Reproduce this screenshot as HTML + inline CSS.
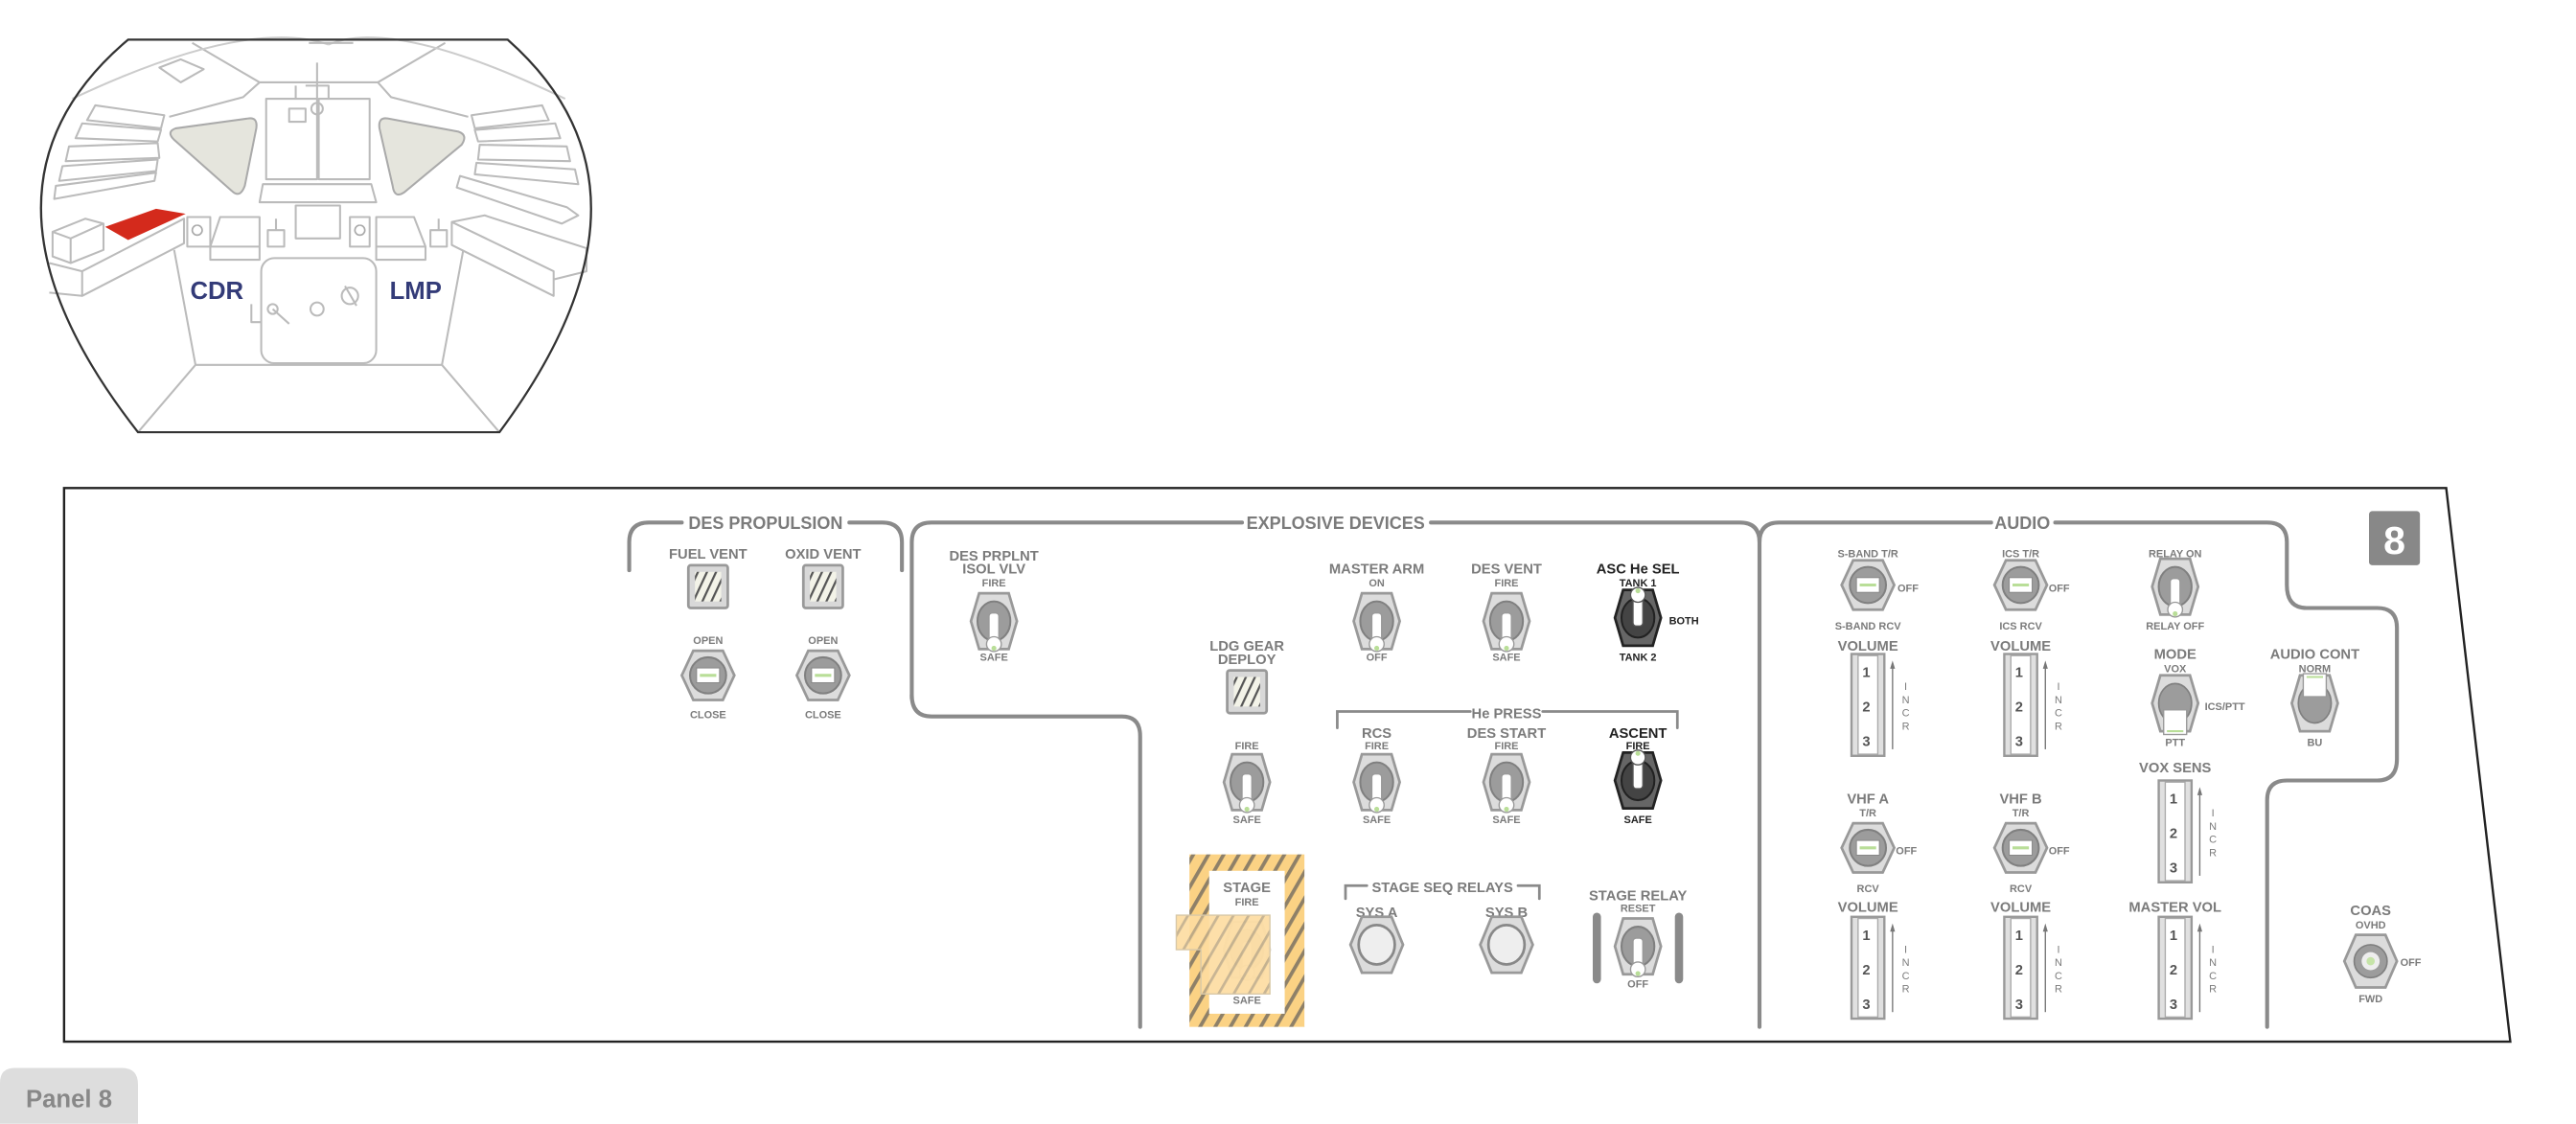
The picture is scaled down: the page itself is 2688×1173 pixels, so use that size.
<!DOCTYPE html>
<html><head><meta charset="utf-8"><style>
html,body{margin:0;padding:0;background:#fff;}
svg{display:block}
text{font-family:"Liberation Sans Narrow","Liberation Sans",sans-serif;font-weight:bold;fill:#7b7b7b;text-anchor:middle}
.t{font-size:8.6px}
.s{font-size:6.4px}
.h{font-size:10.5px}
.k{fill:#222}
.w{fill:#555;font-family:"Liberation Sans",sans-serif}
</style></head><body>
<svg width="2688" height="1173" viewBox="0 0 1568 684" xmlns="http://www.w3.org/2000/svg">
<defs>
<pattern id="hatch" width="8" height="8" patternUnits="userSpaceOnUse" patternTransform="rotate(30)">
<rect width="8" height="8" fill="#fbd284"/><rect width="2.2" height="8" fill="#8e8068"/></pattern>
<pattern id="hatch2" width="8" height="8" patternUnits="userSpaceOnUse" patternTransform="rotate(30)">
<rect width="8" height="8" fill="#fddca0"/><rect width="1.6" height="8" fill="#c2ad88"/></pattern>
<pattern id="sqh" width="5" height="5" patternUnits="userSpaceOnUse" patternTransform="rotate(25)">
<rect width="5" height="5" fill="#f3f3e8"/><rect width="1.3" height="5" fill="#555"/></pattern>
<g id="tg">
<polygon points="-14,0 -9,-17 9,-17 14,0 9,17 -9,17" fill="#dcdcdc" stroke="#999" stroke-width="1.6"/>
<ellipse rx="10" ry="12" fill="#9c9c9c" stroke="#808080" stroke-width="1.2"/>
<rect x="-3" y="-5" width="6" height="17" rx="2" fill="#fff" stroke="#999" stroke-width="0.8"/>
<circle cy="14" r="4.5" fill="#fff" stroke="#999" stroke-width="0.8"/>
<circle cy="16.5" r="1.5" fill="#b9de98"/>
</g>
<g id="tgd">
<polygon points="-14,0 -9,-17 9,-17 14,0 9,17 -9,17" fill="#666" stroke="#222" stroke-width="1.6"/>
<ellipse rx="10" ry="12" fill="#444" stroke="#222" stroke-width="1.2"/>
<rect x="-3" y="-12" width="6" height="17" rx="2" fill="#fff" stroke="#555" stroke-width="0.8"/>
<circle cy="-14" r="4.5" fill="#fff" stroke="#555" stroke-width="0.8"/>
<circle cy="-16.5" r="1.5" fill="#b9de98"/>
</g>
<g id="rot">
<polygon points="-16,0 -9,-15 9,-15 16,0 9,15 -9,15" fill="#dcdcdc" stroke="#999" stroke-width="1.6"/>
<circle r="11" fill="#9c9c9c" stroke="#808080" stroke-width="1.2"/>
<rect x="-7" y="-4.5" width="14" height="9" fill="#fff" stroke="#888" stroke-width="0.6"/>
<line x1="-5" x2="5" y1="0" y2="0" stroke="#b9de98" stroke-width="1.8"/>
</g>
<g id="btn">
<polygon points="-16,0 -9,-17 9,-17 16,0 9,17 -9,17" fill="#dcdcdc" stroke="#999" stroke-width="1.6"/>
<ellipse rx="11" ry="12" fill="#eee" stroke="#888" stroke-width="1.6"/>
</g>
<g id="sq">
<rect x="-12" y="-13" width="24" height="26" rx="1.5" fill="#d8d8d8" stroke="#999" stroke-width="1.6"/>
<rect x="-8" y="-9" width="16" height="18" fill="url(#sqh)"/>
</g>
<g id="wh">
<rect x="-10" y="0" width="20" height="62" fill="#e0e0e0" stroke="#999" stroke-width="1.4"/>
<rect x="-6" y="1" width="12" height="60" fill="#fff" stroke="#aaa" stroke-width="0.8"/>
<text x="-1" y="14" class="t w">1</text><text x="-1" y="35" class="t w">2</text><text x="-1" y="56" class="t w">3</text>
<line x1="15" y1="58" x2="15" y2="7" stroke="#777" stroke-width="0.8"/>
<polygon points="13.5,9 15,4 16.5,9" fill="#777"/>
<text x="23" y="22" class="s" style="font-weight:normal">I</text><text x="23" y="30" class="s" style="font-weight:normal">N</text><text x="23" y="38" class="s" style="font-weight:normal">C</text><text x="23" y="46" class="s" style="font-weight:normal">R</text>
</g>
</defs>

<!-- cockpit -->
<g fill="none" stroke="#bbb" stroke-width="1.2" stroke-linejoin="round">
<path d="M117,26 L158,50 L230,50 L271,26"/>
<path d="M158,50 L148,59 L103,71 M230,50 L238,59 L285,71"/>
<path d="M44,60 Q150,10 200,27 M344,60 Q240,10 200,27" stroke="#ccc"/>
<rect x="162" y="60" width="31" height="49"/><rect x="194" y="60" width="31" height="49"/>
<path d="M193,38 L193,60 M180,52 L180,60 M186,52 L200,52 L200,60 M176,66 L186,66 L186,74 L176,74Z"/>
<circle cx="193" cy="66" r="3.5"/>
<polygon points="160,112 226,112 229,123 158,123"/>
<rect x="180" y="125" width="27" height="20"/>
<rect x="159" y="157" width="70" height="64" rx="8"/>
<circle cx="166" cy="188" r="3"/><line x1="166" y1="188" x2="176" y2="197"/>
<circle cx="193" cy="188" r="4"/>
<circle cx="213" cy="180" r="5"/><line x1="210" y1="174" x2="217" y2="186"/>
<path d="M153,185 L153,196 L159,196"/>
<path d="M106,152 L119,222 L269,222 L282,152 M119,222 L84,263 M269,222 L304,263"/>
<path d="M100,70 L58,64 L53,73 L98,78 Z M98,79 L50,75 L46,84 L96,86 Z M96,87 L42,89 L40,98 L97,96 Z M96,97 L38,101 L36,110 L95,104 Z M95,105 L34,113 L33,121 L94,110 Z"/>
<path d="M287,70 L330,64 L334,73 L289,78 Z M289,79 L338,75 L341,84 L291,86 Z M292,88 L345,89 L347,98 L291,97 Z M290,99 L350,103 L352,112 L289,106 Z M280,107 L345,126 L352,131 L342,136 L278,114 Z"/>
<path d="M32,141 L52,133 L63,136 L63,152 L43,160 L32,156 Z M43,145 L43,160 M32,141 L43,145 L63,136"/>
<path d="M50,165 L112,133 L112,148 L50,180 Z M30,160 L50,165 L50,180 L30,178"/>
<path d="M275,135 L295,131 L357,151 L357,165 L337,170 L337,180 L275,149 Z M275,135 L337,165 L337,170"/>
<rect x="114" y="132" width="14" height="18"/>
<path d="M128,150 L134,132 L158,132 L158,158 L128,158 Z M128,150 L158,150"/>
<path d="M163,150 L163,140 L173,140 L173,150 Z M168,140 L168,133"/>
<rect x="213" y="132" width="12" height="18"/>
<path d="M229,150 L229,132 L252,132 L259,150 L259,158 L229,158 Z M229,150 L259,150"/>
<path d="M262,150 L262,140 L272,140 L272,150 Z M267,140 L267,133"/>
<path d="M97,41 L110,36 L124,42 L110,50 Z"/>
<path d="M188,26 L215,26"/>
</g>
<path d="M120,137 a3,3 0 1 0 0.1,0 M219,137 a3,3 0 1 0 0.1,0" fill="none" stroke="#aaa"/>
<path d="M107,78 L151,72 Q157,71 156,78 L149,113 Q146,121 141,116 L106,85 Q101,80 107,78Z" fill="#e5e5dd" stroke="#aaa" stroke-width="1.2"/>
<path d="M236,72 L279,80 Q285,82 281,88 L246,117 Q240,121 239,113 L231,78 Q230,71 236,72Z" fill="#e5e5dd" stroke="#aaa" stroke-width="1.2"/>
<polygon points="64,138 95,127 113,130 78,146" fill="#d42a1c"/>
<text x="132" y="182" style="font-family:'Liberation Sans',sans-serif;font-size:15px;fill:#333b78;font-weight:bold">CDR</text>
<text x="253" y="182" style="font-family:'Liberation Sans',sans-serif;font-size:15px;fill:#333b78;font-weight:bold">LMP</text>
<path d="M78,24 L309,24 Q413,116 304,263 L84,263 Q-31,116 78,24 Z" fill="none" stroke="#333" stroke-width="1.3"/>

<!-- panel -->
<polygon points="39,297 1489,297 1528,634 39,634" fill="none" stroke="#222" stroke-width="1.4"/>
<path d="M0,684 L0,659 Q0,650 9,650 L74,650 Q84,650 84,660 L84,684 Z" fill="#ddd"/>
<text x="42" y="674" style="font-family:'Liberation Sans',sans-serif;font-size:15px;fill:#888;font-weight:bold">Panel 8</text>
<rect x="1442" y="311" width="31" height="33" rx="2" fill="#888"/>
<text x="1457.5" y="337" style="font-family:'Liberation Sans',sans-serif;font-size:24px;fill:#fff;font-weight:bold">8</text>

<g fill="none" stroke="#8a8a8a" stroke-width="2.4" stroke-linecap="round">
<path d="M383,347 L383,330 Q383,318 395,318 L415,318 M517,318 L537,318 Q549,318 549,330 L549,347"/>
<path d="M555,425 L555,330 Q555,318 567,318 L756,318 M871,318 L1059,318 Q1071,318 1071,330 L1071,625"/>
<path d="M555,423 Q555,436 567,436 L683,436 Q694,436 694,448 L694,625"/>
<path d="M1071,330 Q1071,318 1083,318 L1212,318 M1251,318 L1380,318 Q1392,318 1392,330 L1392,356 Q1392,370 1404,370 L1447,370 Q1459,370 1459,382 L1459,462 Q1459,475 1447,475 L1392,475 Q1380,475 1380,487 L1380,625"/>
<path d="M814,443 L814,433 L895,433 M939,433 L1021,433 L1021,443" stroke-width="1.6"/>
<path d="M819,547 L819,539 L832,539 M924,539 L937,539 L937,547" stroke-width="1.6"/>
</g>
<line x1="972" y1="558" x2="972" y2="596" stroke="#8a8a8a" stroke-width="5" stroke-linecap="round"/>
<line x1="1022" y1="558" x2="1022" y2="596" stroke="#8a8a8a" stroke-width="5" stroke-linecap="round"/>
<text x="466" y="322" class="h">DES PROPULSION</text>
<text x="813" y="322" class="h">EXPLOSIVE DEVICES</text>
<text x="1231" y="322" class="h">AUDIO</text>
<text x="917" y="437" class="t">He PRESS</text>
<text x="878" y="543" class="t">STAGE SEQ RELAYS</text>

<!-- DES PROPULSION -->
<text x="431" y="340" class="t">FUEL VENT</text><text x="501" y="340" class="t">OXID VENT</text>
<use href="#sq" x="431" y="357"/><use href="#sq" x="501" y="357"/>
<text x="431" y="392" class="s">OPEN</text><text x="501" y="392" class="s">OPEN</text>
<use href="#rot" x="431" y="411"/><use href="#rot" x="501" y="411"/>
<text x="431" y="437" class="s">CLOSE</text><text x="501" y="437" class="s">CLOSE</text>

<!-- EXPLOSIVE -->
<text x="605" y="341" class="t">DES PRPLNT</text><text x="605" y="349" class="t">ISOL VLV</text><text x="605" y="357" class="s">FIRE</text>
<use href="#tg" x="605" y="378"/><text x="605" y="402" class="s">SAFE</text>
<text x="838" y="349" class="t">MASTER ARM</text><text x="838" y="357" class="s">ON</text>
<use href="#tg" x="838" y="378"/><text x="838" y="402" class="s">OFF</text>
<text x="917" y="349" class="t">DES VENT</text><text x="917" y="357" class="s">FIRE</text>
<use href="#tg" x="917" y="378"/><text x="917" y="402" class="s">SAFE</text>
<text x="997" y="349" class="t k">ASC He SEL</text><text x="997" y="357" class="s k">TANK 1</text>
<use href="#tgd" x="997" y="376"/><text x="1025" y="380" class="s k">BOTH</text><text x="997" y="402" class="s k">TANK 2</text>
<text x="759" y="396" class="t">LDG GEAR</text><text x="759" y="404" class="t">DEPLOY</text>
<use href="#sq" x="759" y="421"/>
<text x="759" y="456" class="s">FIRE</text><use href="#tg" x="759" y="476"/><text x="759" y="501" class="s">SAFE</text>
<text x="838" y="449" class="t">RCS</text><text x="838" y="456" class="s">FIRE</text><use href="#tg" x="838" y="476"/><text x="838" y="501" class="s">SAFE</text>
<text x="917" y="449" class="t">DES START</text><text x="917" y="456" class="s">FIRE</text><use href="#tg" x="917" y="476"/><text x="917" y="501" class="s">SAFE</text>
<text x="997" y="449" class="t k">ASCENT</text><text x="997" y="456" class="s k">FIRE</text><use href="#tgd" x="997" y="475"/><text x="997" y="501" class="s k">SAFE</text>

<rect x="724" y="520" width="70" height="105" fill="url(#hatch)"/>
<rect x="736" y="530" width="46" height="87" fill="#fff"/>
<text x="759" y="543" class="t">STAGE</text><text x="759" y="551" class="s">FIRE</text>
<use href="#tg" x="759" y="578" opacity="0.35"/>
<path d="M716,557 L773,557 L773,605 L731,605 L731,578 L716,578 Z" fill="url(#hatch2)" fill-opacity="0.9" stroke="#d8c8a8" stroke-width="0.8"/>
<text x="759" y="611" class="s">SAFE</text>
<text x="838" y="558" class="t">SYS A</text><use href="#btn" x="838" y="575"/>
<text x="917" y="558" class="t">SYS B</text><use href="#btn" x="917" y="575"/>
<text x="997" y="548" class="t">STAGE RELAY</text><text x="997" y="555" class="s">RESET</text>
<use href="#tg" x="997" y="576"/><text x="997" y="601" class="s">OFF</text>

<!-- AUDIO -->
<text x="1137" y="339" class="s">S-BAND T/R</text><use href="#rot" x="1137" y="356"/><text x="1155" y="360" class="s" style="text-anchor:start">OFF</text><text x="1137" y="383" class="s">S-BAND RCV</text>
<text x="1230" y="339" class="s">ICS T/R</text><use href="#rot" x="1230" y="356"/><text x="1247" y="360" class="s" style="text-anchor:start">OFF</text><text x="1230" y="383" class="s">ICS RCV</text>
<text x="1324" y="339" class="s">RELAY ON</text><use href="#tg" x="1324" y="357"/><text x="1324" y="383" class="s">RELAY OFF</text>
<text x="1137" y="396" class="t">VOLUME</text><use href="#wh" x="1137" y="398"/>
<text x="1230" y="396" class="t">VOLUME</text><use href="#wh" x="1230" y="398"/>
<text x="1324" y="401" class="t">MODE</text><text x="1324" y="409" class="s">VOX</text>
<polygon points="1310,428 1315,411 1333,411 1338,428 1333,445 1315,445" fill="#dcdcdc" stroke="#999" stroke-width="1.6"/>
<ellipse cx="1324" cy="428" rx="10" ry="12" fill="#9c9c9c" stroke="#808080"/>
<rect x="1317" y="432" width="14" height="15" fill="#fff" stroke="#999" stroke-width="0.8"/>
<line x1="1319" y1="445" x2="1329" y2="445" stroke="#b9de98" stroke-width="1.2"/>
<text x="1342" y="432" class="s" style="text-anchor:start">ICS/PTT</text><text x="1324" y="454" class="s">PTT</text>
<text x="1409" y="401" class="t">AUDIO CONT</text><text x="1409" y="409" class="s">NORM</text>
<polygon points="1395,428 1400,411 1418,411 1423,428 1418,445 1400,445" fill="#dcdcdc" stroke="#999" stroke-width="1.6"/>
<ellipse cx="1409" cy="428" rx="10" ry="12" fill="#9c9c9c" stroke="#808080"/>
<rect x="1402" y="410" width="14" height="14" fill="#fff" stroke="#999" stroke-width="0.8"/>
<line x1="1404" y1="412" x2="1414" y2="412" stroke="#b9de98" stroke-width="1.2"/>
<text x="1409" y="454" class="s">BU</text>
<text x="1324" y="470" class="t">VOX SENS</text><use href="#wh" x="1324" y="475"/>
<text x="1137" y="489" class="t">VHF A</text><text x="1137" y="497" class="s">T/R</text><use href="#rot" x="1137" y="516"/><text x="1154" y="520" class="s" style="text-anchor:start">OFF</text><text x="1137" y="543" class="s">RCV</text>
<text x="1230" y="489" class="t">VHF B</text><text x="1230" y="497" class="s">T/R</text><use href="#rot" x="1230" y="516"/><text x="1247" y="520" class="s" style="text-anchor:start">OFF</text><text x="1230" y="543" class="s">RCV</text>
<text x="1137" y="555" class="t">VOLUME</text><use href="#wh" x="1137" y="558"/>
<text x="1230" y="555" class="t">VOLUME</text><use href="#wh" x="1230" y="558"/>
<text x="1324" y="555" class="t">MASTER VOL</text><use href="#wh" x="1324" y="558"/>
<text x="1443" y="557" class="t">COAS</text><text x="1443" y="565" class="s">OVHD</text>
<polygon points="1427,585 1434,569 1452,569 1459,585 1452,601 1434,601" fill="#dcdcdc" stroke="#999" stroke-width="1.6"/>
<circle cx="1443" cy="585" r="10" fill="#9c9c9c" stroke="#808080"/>
<circle cx="1443" cy="585" r="5.5" fill="#eee"/><circle cx="1443" cy="585" r="2.5" fill="#c6e4a8"/>
<text x="1461" y="588" class="s" style="text-anchor:start">OFF</text><text x="1443" y="610" class="s">FWD</text>
</svg>
</body></html>
